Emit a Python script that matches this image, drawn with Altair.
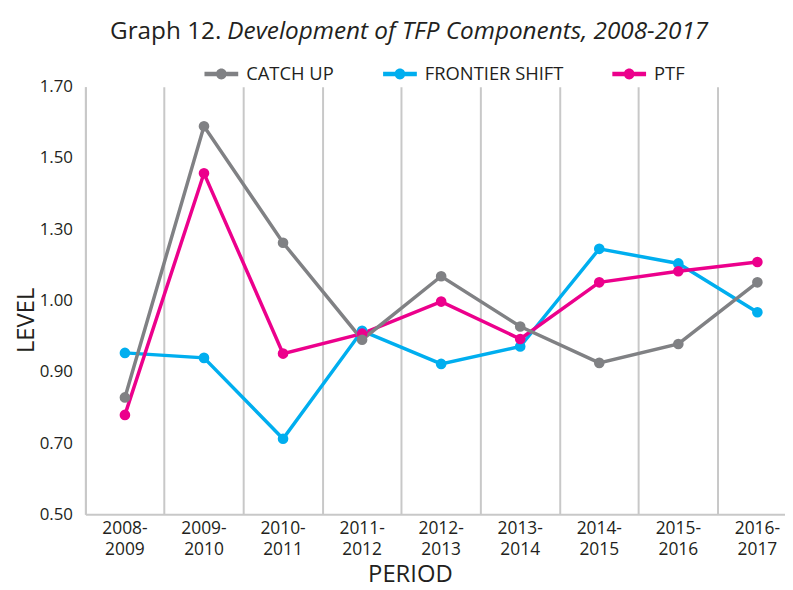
import altair as alt
import pandas as pd

periods = ["2008-2009", "2009-2010", "2010-2011", "2011-2012", "2012-2013",
           "2013-2014", "2014-2015", "2015-2016", "2016-2017"]
catch_up = [0.828, 1.589, 1.262, 0.990, 1.168, 1.027, 0.925, 0.978, 1.151]
frontier_shift = [0.953, 0.939, 0.712, 1.015, 0.922, 0.971, 1.245, 1.204, 1.067]
ptf = [0.779, 1.457, 0.951, 1.007, 1.097, 0.992, 1.151, 1.182, 1.208]

series_names = ["CATCH UP", "FRONTIER SHIFT", "PTF"]
series_colors = ["#808184", "#00aeef", "#ec008c"]

y_tick_values = [0.5, 0.7, 0.9, 1.1, 1.3, 1.5, 1.7]
y_tick_labels = ["0.50", "0.70", "0.90", "1.00", "1.30", "1.50", "1.70"]

title_parts = ["Graph 12.", "Development of TFP Components, 2008-2017"]

FONT = "Open Sans"
TEXT = "#231f20"
GRID = "#c8c8c8"

rows = []
# drawing order: frontier shift at the bottom, catch up on top
for name, vals in [("FRONTIER SHIFT", frontier_shift), ("PTF", ptf), ("CATCH UP", catch_up)]:
    for p, v in zip(periods, vals):
        rows.append({"period": p, "series": name, "level": v})
df = pd.DataFrame(rows)

label_expr_y = " : ".join(
    [f"abs(datum.value - {v}) < 0.001 ? '{l}'" for v, l in zip(y_tick_values, y_tick_labels)]
) + " : ''"

band_total = 717
x_enc = alt.X(
    "period:N",
    sort=periods,
    scale=alt.Scale(type="band", range=[0, band_total], paddingInner=0, paddingOuter=0),
    axis=alt.Axis(
        title="PERIOD",
        grid=True,
        gridColor=GRID,
        gridWidth=2,
        domainColor=GRID,
        domainWidth=2,
        ticks=False,
        tickSize=0,
        bandPosition=0,
        labelExpr="[slice(datum.label, 0, 5), slice(datum.label, 5)]",
        labelFont=FONT,
        labelFontSize=17.5,
        labelColor=TEXT,
        labelLineHeight=21.5,
        labelPadding=5,
        labelAngle=0,
        labelBaseline="top",
        titleFont=FONT,
        titleFontSize=24,
        titleFontWeight="normal",
        titleColor=TEXT,
        titleX=327,
        titleY=61,
        titleBaseline="middle",
        titleAnchor="middle",
    ),
)

y_enc = alt.Y(
    "level:Q",
    scale=alt.Scale(domain=[0.5, 1.7], nice=False, zero=False),
    axis=alt.Axis(
        title="LEVEL",
        values=y_tick_values,
        labelExpr=label_expr_y,
        grid=False,
        domainColor=GRID,
        domainWidth=2,
        ticks=False,
        tickSize=0,
        labelFont=FONT,
        labelFontSize=17,
        labelColor=TEXT,
        labelPadding=13,
        titleFont=FONT,
        titleFontSize=24,
        titleFontWeight="normal",
        titleColor=TEXT,
        titleX=-59,
        titleY=235,
        titleAngle=-90,
        titleBaseline="middle",
        titleAlign="center",
    ),
)

legend_symbol = ("M-1,-0.13H-0.3V0.13H-1Z M0.3,-0.13H1V0.13H0.3Z "
                 "M-0.32,0A0.32,0.32,0,1,1,0.32,0A0.32,0.32,0,1,1,-0.32,0Z")

legend = alt.Legend(
    title=None,
    orient="none",
    legendX=120,
    legendY=-30,
    direction="horizontal",
    symbolType=legend_symbol,
    symbolSize=1156,
    symbolStrokeWidth=0,
    symbolOpacity=1,
    labelFont=FONT,
    labelFontSize=18.5,
    labelColor=TEXT,
    columnPadding=49,
    labelOffset=8,
    padding=0,
)

color_scale = alt.Scale(domain=series_names, range=series_colors)

lines = alt.Chart(df).mark_line(strokeWidth=3.5).encode(
    x=x_enc,
    y=y_enc,
    color=alt.Color("series:N", scale=color_scale, legend=legend),
)

points = alt.Chart(df).mark_point(filled=True, size=115, opacity=1).encode(
    x=x_enc,
    y=y_enc,
    color=alt.Color("series:N", scale=color_scale, legend=legend),
)

title_df = pd.DataFrame({"t": [title_parts[0]]})
title_df2 = pd.DataFrame({"t": [title_parts[1]]})

title_a = alt.Chart(title_df).mark_text(
    font=FONT, fontSize=24.5, align="right", baseline="alphabetic", color=TEXT
).encode(text="t:N", x=alt.value(137), y=alt.value(-48))

title_b = alt.Chart(title_df2).mark_text(
    font=FONT, fontSize=24.5, fontStyle="italic", align="left", baseline="alphabetic", color=TEXT
).encode(text="t:N", x=alt.value(143), y=alt.value(-48))

chart = alt.layer(lines, points, title_a, title_b).properties(
    width=705,
    height=431,
    autosize=alt.AutoSizeParams(type="none"),
    padding={"left": 78, "top": 77, "right": 0, "bottom": 76},
).configure_view(stroke=None)

chart.save("out.html", embed_options={"renderer": "svg", "actions": False})
